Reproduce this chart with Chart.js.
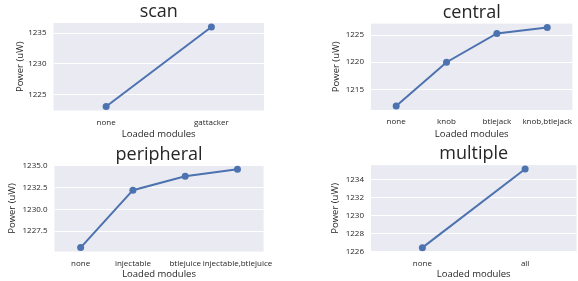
<!DOCTYPE html>
<html>
<head>
<meta charset="utf-8">
<script src="https://cdn.jsdelivr.net/npm/chart.js@4"></script>
<style>
    html, body { margin: 0; padding: 0; background: #fff; overflow: hidden; width: 578px; height: 281px; }
    canvas { position: absolute; }
</style>
</head>
<body>
<canvas id="scanChart" width="289" height="140" style="left:0px; top:0px;"></canvas>
<canvas id="centralChart" width="291" height="140" style="left:289px; top:0px;"></canvas>
<canvas id="peripheralChart" width="289" height="141" style="left:0px; top:140px;"></canvas>
<canvas id="multipleChart" width="291" height="141" style="left:289px; top:140px;"></canvas>
<script>
// --- DATA ---
const scanLabels = ['none', 'gattacker'];
const scanPower = [1223.0, 1236.0];
const scanTicks = [1225, 1230, 1235];

const centralLabels = ['none', 'knob', 'btlejack', 'knob,btlejack'];
const centralPower = [1211.9, 1220.0, 1225.3, 1226.4];
const centralTicks = [1215, 1220, 1225];

const peripheralLabels = ['none', 'injectable', 'btlejuice', 'injectable,btlejuice'];
const peripheralPower = [1225.6, 1232.2, 1233.8, 1234.6];
const peripheralTicks = [1227.5, 1230.0, 1232.5, 1235.0];

const multipleLabels = ['none', 'all'];
const multiplePower = [1226.4, 1235.2];
const multipleTicks = [1226, 1228, 1230, 1232, 1234];

const FONT = "'Open Sans', 'Noto Sans', sans-serif";
const TEXT = '#262626';
const LINE = '#4C72B0';

// paint the grey axes background before anything else
const plotBg = {
    id: 'plotBg',
    beforeDraw(chart) {
        const a = chart.chartArea;
        const ctx = chart.ctx;
        ctx.save();
        ctx.fillStyle = '#EAEAF2';
        ctx.fillRect(a.left, a.top, a.right - a.left, a.bottom - a.top);
        ctx.restore();
    }
};

// --- BUILD ONE PANEL ---
function makePanel(id, title, labels, values, ticks, lay) {
    const lo = Math.min(...values), hi = Math.max(...values);
    const pad = (hi - lo) * 0.05;
    const decimals = ticks.some(t => t % 1 !== 0) ? 1 : 0;

    new Chart(document.getElementById(id), {
        type: 'line',
        data: {
            labels: labels,
            datasets: [{
                data: values,
                borderColor: LINE,
                backgroundColor: LINE,
                borderWidth: 2,
                pointRadius: 3.5,
                pointBorderWidth: 0,
                pointHoverRadius: 3.5,
                tension: 0,
                clip: false
            }]
        },
        plugins: [plotBg],
        options: {
            responsive: false,
            animation: false,
            events: [],
            layout: { padding: { left: 0, right: lay.right, top: 0, bottom: 0 } },
            plugins: {
                legend: { display: false },
                tooltip: { enabled: false },
                title: {
                    display: true,
                    text: title,
                    fullSize: false,
                    color: TEXT,
                    font: { family: FONT, size: 18, weight: 'normal' },
                    padding: { top: lay.titleTop, bottom: 0 }
                }
            },
            scales: {
                x: {
                    offset: true,
                    grid: { display: false, drawTicks: false },
                    border: { display: false },
                    ticks: { color: TEXT, font: { family: FONT, size: 8 }, padding: 7, maxRotation: 0, autoSkip: false },
                    title: {
                        display: true, text: 'Loaded modules', color: TEXT,
                        font: { family: FONT, size: 9.5 },
                        padding: { top: 0, bottom: lay.xTitleBottom }
                    },
                    afterFit(scale) { scale.height = lay.xHeight; }
                },
                y: {
                    min: lo - pad,
                    max: hi + pad,
                    grid: { color: '#ffffff', lineWidth: 1, drawTicks: false },
                    border: { display: false },
                    ticks: {
                        color: TEXT, font: { family: FONT, size: 8 }, padding: 7,
                        callback: v => Number(v).toFixed(decimals)
                    },
                    afterBuildTicks(scale) { scale.ticks = ticks.map(v => ({ value: v })); },
                    title: {
                        display: true, text: 'Power (uW)', color: TEXT,
                        font: { family: FONT, size: 9.5 },
                        padding: { top: lay.yTitlePad, bottom: 0 }
                    },
                    afterFit(scale) { scale.width = lay.yWidth; }
                }
            }
        }
    });
}

makePanel('scanChart', 'scan', scanLabels, scanPower, scanTicks,
    { right: 25, titleTop: 1.4, xHeight: 29.5, xTitleBottom: 0.3, yWidth: 53.5, yTitlePad: 15 });
makePanel('centralChart', 'central', centralLabels, centralPower, centralTicks,
    { right: 0, titleTop: 2, xHeight: 30, xTitleBottom: 0.3, yWidth: 82, yTitlePad: 42 });
makePanel('peripheralChart', 'peripheral', peripheralLabels, peripheralPower, peripheralTicks,
    { right: 25.4, titleTop: 3.8, xHeight: 29.5, xTitleBottom: 1.3, yWidth: 54.5, yTitlePad: 6.6 });
makePanel('multipleChart', 'multiple', multipleLabels, multiplePower, multipleTicks,
    { right: 0, titleTop: 3.5, xHeight: 29.4, xTitleBottom: 1.3, yWidth: 82, yTitlePad: 41 });
</script>
</body>
</html>
